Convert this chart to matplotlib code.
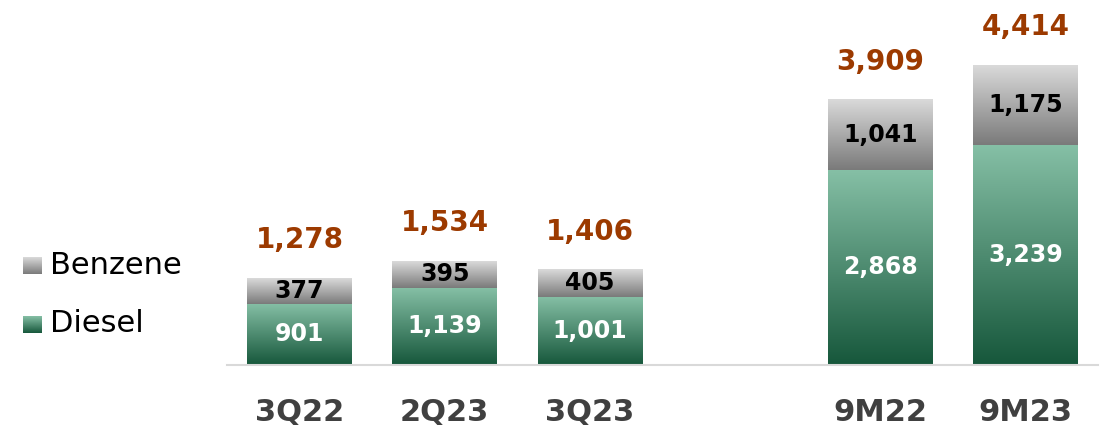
import numpy as np
import matplotlib.pyplot as plt
from matplotlib.colors import LinearSegmentedColormap

categories = ['3Q22', '2Q23', '3Q23', '9M22', '9M23']
positions = [0, 1, 2, 4, 5]
diesel = [901, 1139, 1001, 2868, 3239]
benzene = [377, 395, 405, 1041, 1175]
totals = [1278, 1534, 1406, 3909, 4414]

FONT = 'DejaVu Sans'
green_cmap = LinearSegmentedColormap.from_list('g', ['#16573b', '#86c0a6'])
grey_cmap = LinearSegmentedColormap.from_list('k', ['#7a7a7a', '#dadada'])
grad = np.linspace(0, 1, 256).reshape(-1, 1)


def fill_gradient(ax, patch, cmap):
  x0, y0 = patch.get_x(), patch.get_y()
  w, h = patch.get_width(), patch.get_height()
  ax.imshow(grad, cmap=cmap, origin='lower', aspect='auto',
            extent=[x0, x0 + w, y0, y0 + h], zorder=2)


fig = plt.figure(figsize=(11.04, 4.29), dpi=100)
ax = fig.add_axes([227 / 1104, 1 - 365 / 429, (1098 - 227) / 1104, 365 / 429])

width = 0.72
bars_d = ax.bar(positions, diesel, width, color='none')
bars_b = ax.bar(positions, benzene, width, bottom=diesel, color='none')
for p in bars_d:
  fill_gradient(ax, p, green_cmap)
for p in bars_b:
  fill_gradient(ax, p, grey_cmap)

for x, d, b, t in zip(positions, diesel, benzene, totals):
  ax.text(x, d / 2, f'{d:,}', ha='center', va='center', color='white',
          fontsize=17, fontweight='bold', family=FONT, zorder=3)
  ax.text(x, d + b / 2, f'{b:,}', ha='center', va='center', color='black',
          fontsize=17, fontweight='bold', family=FONT, zorder=3)
  ax.annotate(f'{t:,}', (x, t), xytext=(0, 17), textcoords='offset points',
              ha='center', va='bottom', color='#9c3a00', fontsize=20,
              fontweight='bold', family=FONT)

ax.set_xlim(-0.5, 5.5)
ax.set_ylim(0, 365 / 0.068)
for s in ['top', 'right', 'left']:
  ax.spines[s].set_visible(False)
ax.spines['bottom'].set_color('#d9d9d9')
ax.spines['bottom'].set_linewidth(1.5)
ax.set_yticks([])
ax.set_xticks(positions)
ax.set_xticklabels(categories, fontsize=22, fontweight='bold', color='#404040', family=FONT)
ax.tick_params(axis='x', length=0, pad=24)

# legend with gradient squares
for label, cmap, ypix in [('Benzene', grey_cmap, 265), ('Diesel', green_cmap, 324)]:
  sq = fig.add_axes([23 / 1104, 1 - (ypix + 9) / 429, 19 / 1104, 17 / 429])
  sq.imshow(grad, cmap=cmap, origin='lower', aspect='auto')
  sq.axis('off')
  fig.text(50 / 1104, 1 - ypix / 429, label, ha='left', va='center',
           fontsize=22, color='black', family=FONT)

fig.savefig('out.png', dpi=100)
